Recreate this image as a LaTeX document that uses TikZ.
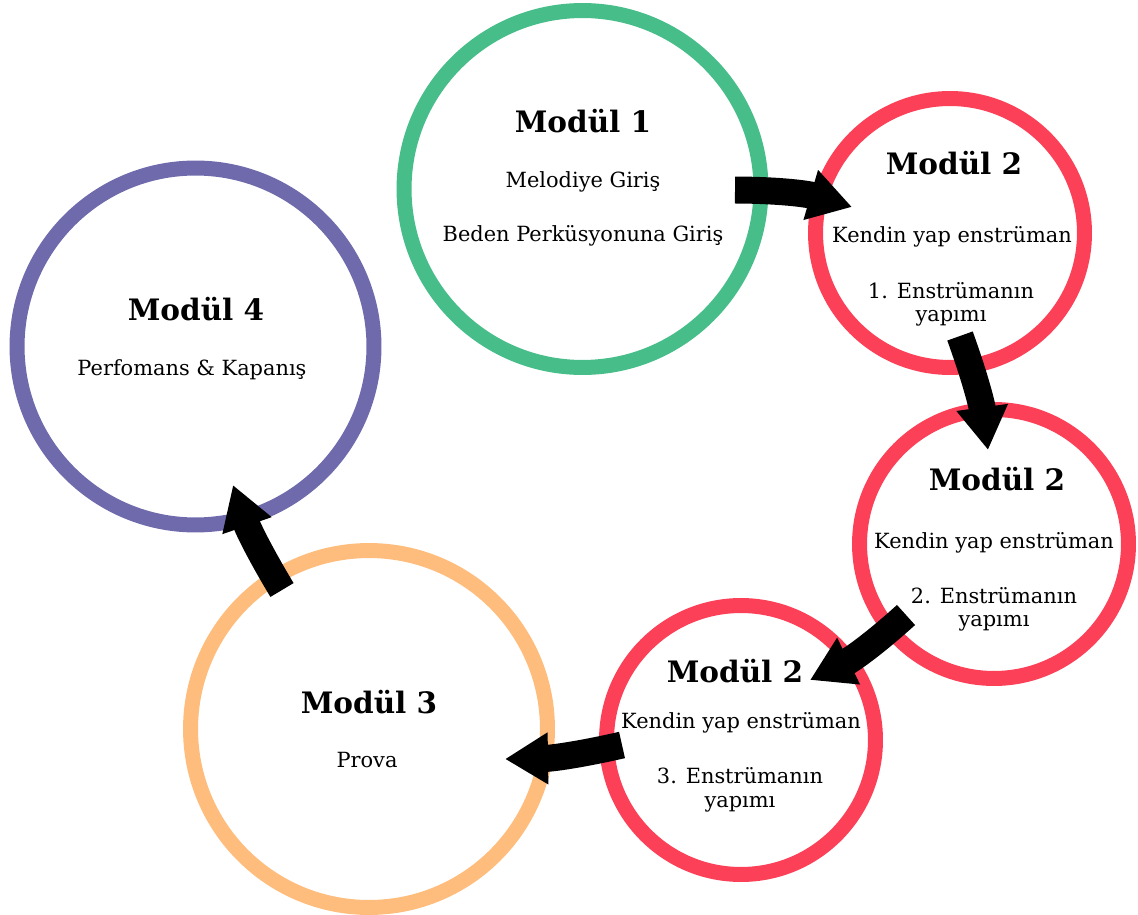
\documentclass[tikz,border=0pt]{standalone}
\usepackage{fontspec}
\setmainfont{DejaVu Serif}
\usepackage{xcolor}
\usetikzlibrary{arrows.meta}

\definecolor{modGreen}{RGB}{71,189,137}
\definecolor{modRed}{RGB}{252,64,88}
\definecolor{modOrange}{RGB}{255,189,125}
\definecolor{modPurple}{RGB}{110,106,172}

\begin{document}
\begin{tikzpicture}[
        x=0.02cm, y=-0.02cm,
        ringBig/.style={circle, draw, line width=0.3cm, minimum size=7.14cm, inner sep=0pt},
        ringSmall/.style={circle, draw, line width=0.3cm, minimum size=5.38cm, inner sep=0pt},
        titleText/.style={anchor=base, inner sep=0pt, font=\fontsize{16.8}{19}\selectfont\bfseries},
        bodyText/.style={anchor=base, inner sep=0pt, font=\fontsize{11.9}{14}\selectfont},
        flowArrow/.style={-{Triangle[length=0.86cm, width=0.98cm]}, line width=0.54cm, black}
    ]
        \useasboundingbox (0,0) rectangle (1138,915);

        % ========== RINGS ==========
        \node[ringBig, draw=modGreen] (modul1) at (582.5,189) {};
        \node[ringSmall, draw=modRed] (modul2a) at (950,233) {};
        \node[ringSmall, draw=modRed] (modul2b) at (994,544) {};
        \node[ringSmall, draw=modRed] (modul2c) at (741,740) {};
        \node[ringBig, draw=modOrange] (modul3) at (369,729) {};
        \node[ringBig, draw=modPurple] (modul4) at (195.5,346.5) {};

        % ========== TEXTS ==========
        \node[titleText] (modul1Title) at (583,133) {Modül 1};
        \node[bodyText] (modul1LineA) at (583,188) {Melodiye Giriş};
        \node[bodyText] (modul1LineB) at (583,242) {Beden Perküsyonuna Giriş};

        \node[titleText] (modul2aTitle) at (954,175) {Modül 2};
        \node[bodyText] (modul2aLineA) at (952,243) {Kendin yap enstrüman};
        \node[bodyText] (modul2aLineB) at (951,298) {1. Enstrümanın};
        \node[bodyText] (modul2aLineC) at (951,321) {yapımı};

        \node[titleText] (modul2bTitle) at (997,490) {Modül 2};
        \node[bodyText] (modul2bLineA) at (994,548) {Kendin yap enstrüman};
        \node[bodyText] (modul2bLineB) at (994,603) {2. Enstrümanın};
        \node[bodyText] (modul2bLineC) at (994,626) {yapımı};

        \node[titleText] (modul2cTitle) at (735,682) {Modül 2};
        \node[bodyText] (modul2cLineA) at (741,728) {Kendin yap enstrüman};
        \node[bodyText] (modul2cLineB) at (740,783) {3. Enstrümanın};
        \node[bodyText] (modul2cLineC) at (740,807) {yapımı};

        \node[titleText] (modul3Title) at (369,713) {Modül 3};
        \node[bodyText] (modul3LineA) at (367,767) {Prova};

        \node[titleText] (modul4Title) at (196,320) {Modül 4};
        \node[bodyText] (modul4LineA) at (192,375) {Perfomans \& Kapanış};

        % ========== FLOW ARROWS ==========
        \coordinate (out1) at (735,190);
        \coordinate (in2a) at (852,207);
        \coordinate (out2a) at (960,336);
        \coordinate (in2b) at (988,450);
        \coordinate (out2b) at (906,615);
        \coordinate (in2c) at (810,680);
        \coordinate (out2c) at (622,745);
        \coordinate (in3) at (505,759);
        \coordinate (out3) at (282,590);
        \coordinate (in4) at (233,485);

        \draw[flowArrow] (out1) to[bend left=8] (in2a);
        \draw[flowArrow] (out2a) to[bend left=6] (in2b);
        \draw[flowArrow] (out2b) to[bend left=8] (in2c);
        \draw[flowArrow] (out2c) to[bend left=6] (in3);
        \draw[flowArrow] (out3) to[bend left=6] (in4);

    \end{tikzpicture}
\end{document}
